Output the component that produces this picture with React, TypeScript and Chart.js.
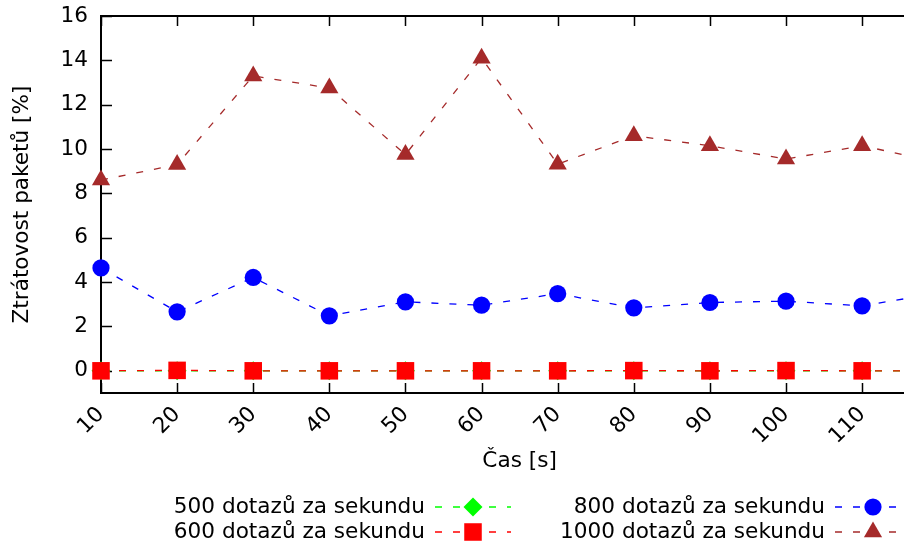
import React, { useEffect, useRef } from 'react';
import { Chart, registerables } from 'chart.js';

Chart.register(...registerables);
Chart.defaults.font.family = "'DejaVu Sans', sans-serif";
Chart.defaults.color = '#000';

const xValues = [10, 20, 30, 40, 50, 60, 70, 80, 90, 100, 110, 120];
const xTicks = [10, 20, 30, 40, 50, 60, 70, 80, 90, 100, 110];
const yTicks = [0, 2, 4, 6, 8, 10, 12, 14, 16];
const series500 = [0, 0, 0, 0, 0, 0, 0, 0, 0, 0, 0, 0];
const series600 = [0, 0.02, 0, 0, 0, 0, 0, 0.01, 0, 0.01, 0, 0];
const series800 = [4.64, 2.66, 4.21, 2.48, 3.11, 2.96, 3.48, 2.84, 3.08, 3.14, 2.93, 3.5];
const series1000 = [8.6, 9.3, 13.3, 12.75, 9.75, 14.1, 9.32, 10.6, 10.15, 9.55, 10.15, 9.4];
const seriesLabels = [
  '500 dotazů za sekundu',
  '600 dotazů za sekundu',
  '800 dotazů za sekundu',
  '1000 dotazů za sekundu',
];
const xTitle = 'Čas [s]';
const yTitle = 'Ztrátovost paketů [%]';

const FSIZE = 21.6;
const FONT = `${FSIZE}px 'DejaVu Sans', sans-serif`;

function drawMarker(ctx: CanvasRenderingContext2D, style: string, r: number, x: number, y: number, color: string) {
  ctx.save();
  ctx.fillStyle = color;
  ctx.setLineDash([]);
  ctx.beginPath();
  if (style === 'circle') {
    ctx.arc(x, y, r, 0, Math.PI * 2);
  } else if (style === 'rect') {
    const s = r * Math.SQRT1_2;
    ctx.rect(x - s, y - s, 2 * s, 2 * s);
  } else if (style === 'rectRot') {
    ctx.moveTo(x, y - r);
    ctx.lineTo(x + r, y);
    ctx.lineTo(x, y + r);
    ctx.lineTo(x - r, y);
    ctx.closePath();
  } else if (style === 'triangle') {
    let a = 0;
    ctx.moveTo(x + Math.sin(a) * r, y - Math.cos(a) * r);
    a += (2 * Math.PI) / 3;
    ctx.lineTo(x + Math.sin(a) * r, y - Math.cos(a) * r);
    a += (2 * Math.PI) / 3;
    ctx.lineTo(x + Math.sin(a) * r, y - Math.cos(a) * r);
    ctx.closePath();
  }
  ctx.fill();
  ctx.restore();
}

const framePlugin = {
  id: 'frame',
  beforeDatasetsDraw(chart: any) {
    const { ctx, chartArea } = chart;
    const xs = chart.scales.x;
    const ys = chart.scales.y;
    const { left, right, top, bottom } = chartArea;
    ctx.save();
    ctx.strokeStyle = '#000';
    ctx.lineWidth = 2;
    ctx.setLineDash([]);
    ctx.beginPath();
    ctx.moveTo(right + 2, top);
    ctx.lineTo(left, top);
    ctx.lineTo(left, bottom);
    ctx.lineTo(right + 2, bottom);
    ctx.stroke();
    ctx.lineWidth = 1.5;
    ctx.beginPath();
    xTicks.forEach((v) => {
      const px = Math.round(xs.getPixelForValue(v)) + 0.5;
      ctx.moveTo(px, bottom);
      ctx.lineTo(px, bottom - 10);
      ctx.moveTo(px, top);
      ctx.lineTo(px, top + 10);
    });
    yTicks.forEach((v) => {
      const py = Math.round(ys.getPixelForValue(v)) + 0.5;
      ctx.moveTo(left, py);
      ctx.lineTo(left + 11, py);
    });
    ctx.stroke();
    // x axis title, centred on the full data range (part of which is cut off at the right)
    const mid = (xValues[0] + xValues[xValues.length - 1]) / 2;
    ctx.font = FONT;
    ctx.fillStyle = '#000';
    ctx.textAlign = 'center';
    ctx.textBaseline = 'middle';
    ctx.fillText(xTitle, xs.getPixelForValue(mid), 461);
    ctx.restore();
  },
};

const legendCols = [
  { textRight: 425, marker: 473 },
  { textRight: 825, marker: 873 },
];
const legendRows = [507, 532];

const legendPlugin = {
  id: 'keyLegend',
  afterDraw(chart: any) {
    const { ctx } = chart;
    chart.data.datasets.forEach((ds: any, i: number) => {
      const col = legendCols[Math.floor(i / 2)];
      const y = legendRows[i % 2];
      ctx.save();
      ctx.font = FONT;
      ctx.fillStyle = '#000';
      ctx.textAlign = 'right';
      ctx.textBaseline = 'middle';
      ctx.fillText(ds.label, col.textRight, y);
      ctx.strokeStyle = ds.borderColor;
      ctx.lineWidth = ds.borderWidth;
      ctx.setLineDash(ds.borderDash);
      ctx.beginPath();
      ctx.moveTo(col.marker - 38, y);
      ctx.lineTo(col.marker + 38, y);
      ctx.stroke();
      ctx.restore();
      drawMarker(ctx, ds.pointStyle, ds.pointRadius, col.marker, y, ds.borderColor);
    });
  },
};

function makeDataset(label: string, values: number[], color: string, style: string, radius: number, order: number) {
  return {
    label,
    data: xValues.map((x, i) => ({ x, y: values[i] })),
    borderColor: color,
    backgroundColor: color,
    borderWidth: 1.3,
    borderDash: [7, 11],
    pointStyle: style,
    pointRadius: radius,
    pointHoverRadius: radius,
    pointBackgroundColor: color,
    pointBorderColor: color,
    pointBorderWidth: 0,
    tension: 0,
    fill: false,
    clip: false,
    order,
  };
}

export default function App() {
  const ref = useRef<HTMLCanvasElement>(null);
  useEffect(() => {
    const chart = new Chart(ref.current as HTMLCanvasElement, {
      type: 'line',
      data: {
        datasets: [
          makeDataset(seriesLabels[0], series500, '#00ff00', 'rectRot', 9.5, 4),
          makeDataset(seriesLabels[1], series600, '#ff0000', 'rect', 12.4, 3),
          makeDataset(seriesLabels[2], series800, '#0000ff', 'circle', 8.6, 2),
          makeDataset(seriesLabels[3], series1000, '#a52a2a', 'triangle', 10.5, 1),
        ] as any,
      },
      options: {
        animation: false,
        responsive: false,
        devicePixelRatio: 1,
        layout: { autoPadding: false, padding: { top: 16, left: 0, right: 0, bottom: 65 } },
        plugins: { legend: { display: false }, tooltip: { enabled: false } },
        scales: {
          x: {
            type: 'linear',
            min: 10,
            max: 115.5,
            position: 'bottom',
            afterBuildTicks: (s: any) => {
              s.ticks = xTicks.map((v) => ({ value: v }));
            },
            afterFit: (s: any) => {
              s.height = 89;
              s.paddingLeft = 0;
              s.paddingRight = 0;
            },
            grid: { display: false, drawTicks: false },
            border: { display: false },
            ticks: {
              color: '#000',
              font: { size: FSIZE },
              minRotation: 45,
              maxRotation: 45,
              padding: 9,
              autoSkip: false,
            },
            title: { display: false },
          },
          y: {
            type: 'linear',
            min: -1,
            max: 16,
            afterBuildTicks: (s: any) => {
              s.ticks = yTicks.map((v) => ({ value: v }));
            },
            afterFit: (s: any) => {
              s.width = 101;
              s.paddingTop = 0;
              s.paddingBottom = 0;
            },
            grid: { display: false, drawTicks: false },
            border: { display: false },
            ticks: { color: '#000', font: { size: FSIZE }, padding: 13 },
            title: {
              display: true,
              text: yTitle,
              color: '#000',
              font: { size: FSIZE },
              padding: { top: 9, bottom: 0 },
            },
          },
        },
      } as any,
      plugins: [framePlugin, legendPlugin],
    });
    return () => chart.destroy();
  }, []);
  return (
    <div style={{ position: 'fixed', left: 0, top: 0, width: 904, height: 547, background: '#fff' }}>
      <canvas ref={ref} width={904} height={547} style={{ display: 'block' }} />
    </div>
  );
}
